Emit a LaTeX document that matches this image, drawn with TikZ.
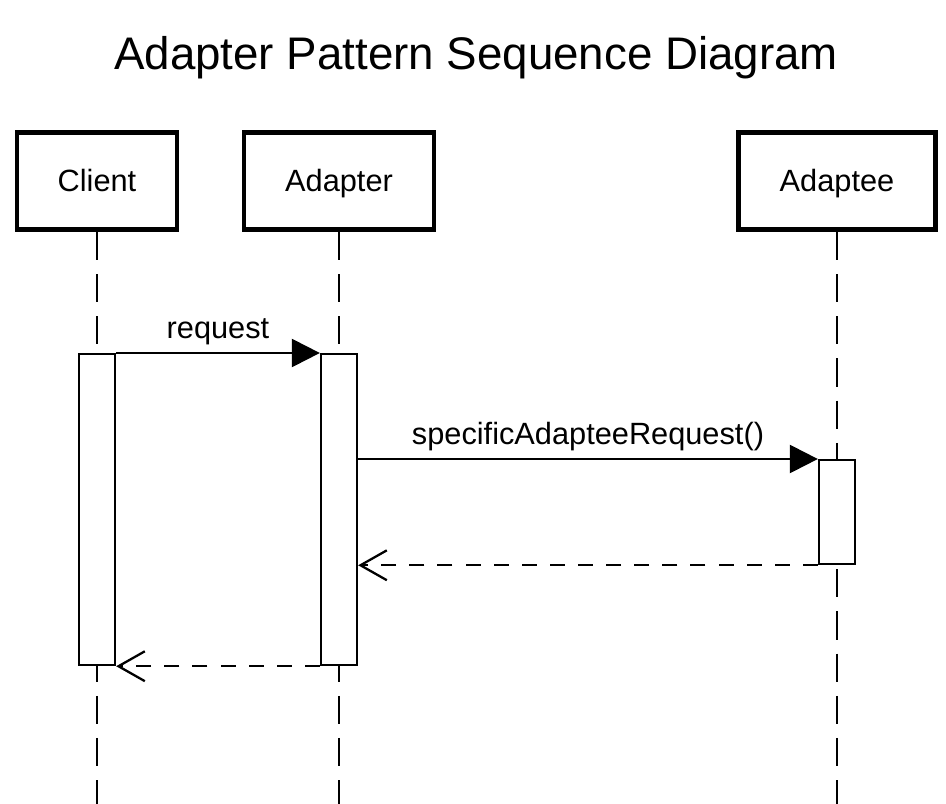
\documentclass[tikz,border=0pt]{standalone}
\usepackage{fontspec}
\setmainfont{Liberation Sans}
\usetikzlibrary{arrows.meta}

\tikzset{
  lifebox/.style={draw, line width=2.8pt, minimum height=1.94cm,
    font=\fontsize{17.5}{20}\selectfont, text height=12.5pt, text depth=0pt},
  lifeline/.style={line width=1.5pt, dash pattern=on 16pt off 8pt},
  actbox/.style={draw, fill=white, line width=1.3pt, minimum width=0.72cm, anchor=north},
  callmsg/.style={line width=1.3pt, -{Triangle[length=16pt,width=16pt]}},
  replymsg/.style={line width=1.3pt, dash pattern=on 8.5pt off 7.5pt,
    -{Straight Barb[length=15pt,width=17pt]}},
  msglabel/.style={font=\fontsize{17.5}{20}\selectfont, anchor=base, yshift=8.5pt}
}

\begin{document}
\begin{tikzpicture}[x=0.02cm, y=-0.02cm]
\fill[white] (0,0) rectangle (946,804);
\useasboundingbox (0,0) rectangle (946,804);

% --- Title ---
\node[font=\fontsize{26}{30}\selectfont, anchor=base] (title) at (476,70) {Adapter Pattern Sequence Diagram};

% --- Participants ---
\node[lifebox, minimum width=3.2cm] (client) at (97,181) {Client};
\node[lifebox, minimum width=3.8cm] (adapter) at (339,181) {Adapter};
\node[lifebox, minimum width=3.94cm] (adaptee) at (837,181) {Adaptee};

% Lifelines
\coordinate (clientEnd) at (97,804);
\coordinate (adapterEnd) at (339,804);
\coordinate (adapteeEnd) at (837,804);
\draw[lifeline] (client.south) -- (clientEnd);
\draw[lifeline] (adapter.south) -- (adapterEnd);
\draw[lifeline] (adaptee.south) -- (adapteeEnd);

% --- Activations ---
\node[actbox, minimum height=6.22cm] (clientAct) at (97,353) {};
\node[actbox, minimum height=6.22cm] (adapterAct) at (339,353) {};
\node[actbox, minimum height=2.08cm] (adapteeAct) at (837,459) {};

% --- Messages ---
\draw[callmsg] (clientAct.north east) -- node[msglabel] {request} (adapterAct.north west);
\draw[callmsg] (adapterAct.east |- adapteeAct.north) -- node[msglabel] {specificAdapteeRequest()} (adapteeAct.north west);
\draw[replymsg] (adapteeAct.south west) -- (adapterAct.east |- adapteeAct.south);
\draw[replymsg] (adapterAct.south west) -- (clientAct.south east);
\end{tikzpicture}
\end{document}
